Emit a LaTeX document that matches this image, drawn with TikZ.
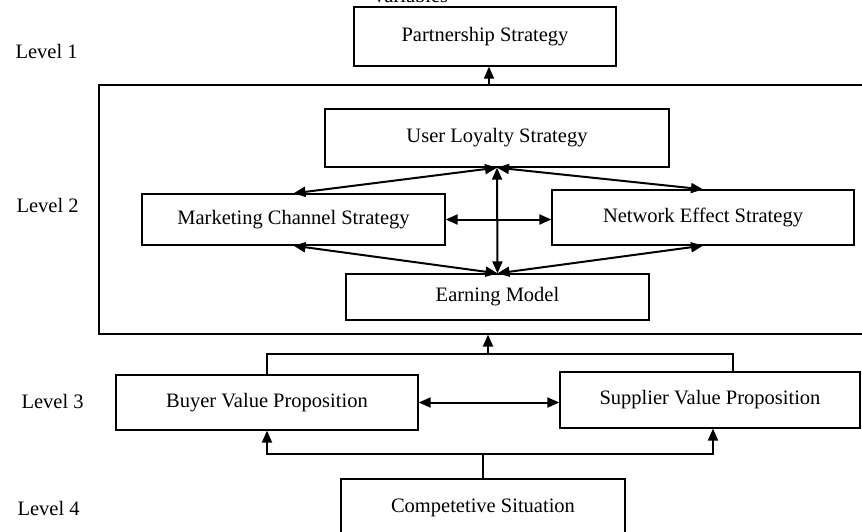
\documentclass[tikz,border=0pt]{standalone}
\usepackage{fontspec}
\setmainfont{Liberation Serif}
\usetikzlibrary{arrows.meta}
\begin{document}
\begin{tikzpicture}[x=1pt,y=-1pt,
  every node/.style={font=\fontsize{20.5}{24}\selectfont},
  box/.style={draw, line width=1.3pt, inner sep=0pt},
  conn/.style={line width=2pt},
  arr/.style={conn, -{Triangle[length=12pt,width=10pt]}},
  dbl/.style={conn, {Triangle[length=12pt,width=10pt]}-{Triangle[length=12pt,width=10pt]}}]
\useasboundingbox (0,0) rectangle (862,532);
\clip (0,0) rectangle (862,532);

% top (cut) caption
\node[anchor=base] (var) at (410,3) {Variables};

% level labels
\node[anchor=base west] (l1) at (12,59) {Level 1};
\node[anchor=base west] (l2) at (13,212) {Level 2};
\node[anchor=base west] (l3) at (18,408) {Level 3};
\node[anchor=base west] (l4) at (14,515) {Level 4};

% boxes
\node[box, minimum width=262pt, minimum height=59pt] (part) at (485,36.5) {Partnership Strategy};
\node[box, minimum width=771pt, minimum height=249pt] (frame) at (484.5,209.5) {};
\node[box, minimum width=344pt, minimum height=58pt] (ul) at (497,138) {User Loyalty Strategy};
\node[box, minimum width=303pt, minimum height=51pt] (mc) at (293.5,219.5) {Marketing Channel Strategy};
\node[box, minimum width=302pt, minimum height=55pt] (ne) at (703,217.5) {Network Effect Strategy};
\node[box, minimum width=303pt, minimum height=46pt] (em) at (497.5,297) {Earning Model};
\node[box, minimum width=302pt, minimum height=55pt] (bv) at (267,402.5) {Buyer Value Proposition};
\node[box, minimum width=300pt, minimum height=56pt] (sv) at (710,400) {Supplier Value Proposition};
\node[box, minimum width=284pt, minimum height=66pt, text height=14pt, text depth=14pt] (cs) at (483,512) {Competetive Situation};

% level 2 -> level 1
\coordinate (pa) at (489,85);
\draw[arr] (pa) -- (pa |- part.south);

% inside level 2
\draw[dbl] (ul.south) -- (mc.north);
\draw[dbl] (ul.south) -- (ne.north);
\draw[dbl] (ul.south) -- (em.north);
\draw[dbl] (mc.south) -- (em.north);
\draw[dbl] (ne.south) -- (em.north);
\draw[dbl] (mc.east) -- (mc.east -| ne.west);

% level 3 -> level 2
\coordinate (j1) at (488,354);
\draw[conn] (bv.north) |- (j1);
\draw[conn] ([xshift=23pt]sv.north) |- (j1);
\draw[arr] (j1) -- (j1 |- frame.south);
\draw[dbl] (bv.east) -- (bv.east -| sv.west);

% level 4 -> level 3
\coordinate (j2) at (483,454);
\draw[conn] (cs.north) -- (j2);
\draw[arr] (j2) -| (bv.south);
\draw[arr] (j2) -| ([xshift=3pt]sv.south);
\end{tikzpicture}
\end{document}
